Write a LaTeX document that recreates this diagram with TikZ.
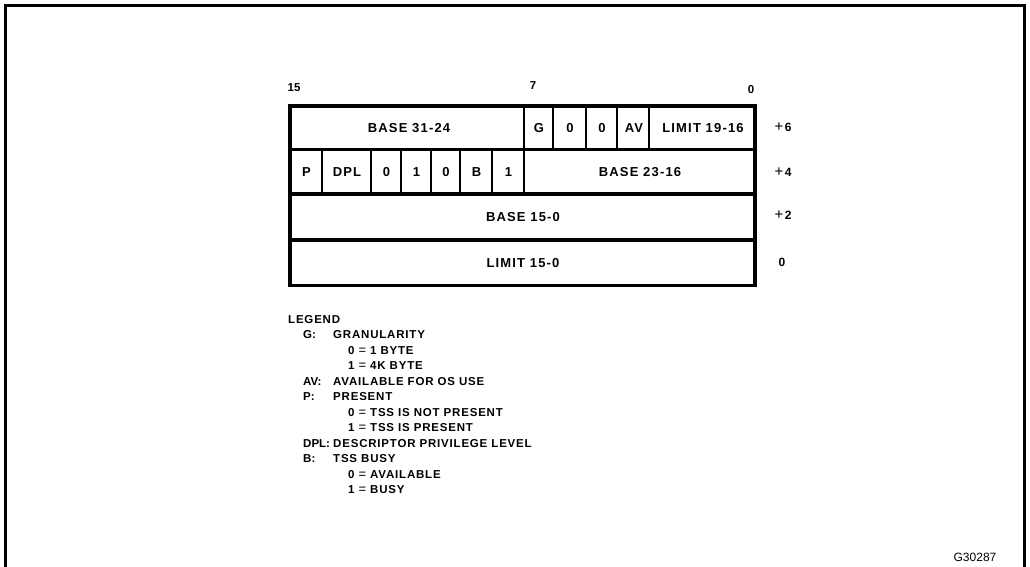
\documentclass[tikz,border=0pt]{standalone}
\usepackage{fontspec}
\setmainfont{Liberation Sans}
\newfontfamily\boxfont[LetterSpace=9]{Liberation Sans Bold}
\newfontfamily\legfont[LetterSpace=7]{Liberation Sans Bold}
\newfontfamily\numfont{Liberation Sans Bold}
\newfontfamily\regfont{Liberation Sans}
\newcommand{\pluslab}[1]{{\regfont\fontsize{15}{15}\selectfont +}\kern1.5pt{\numfont\fontsize{12}{14}\selectfont #1}}
\newcommand{\eqsign}{{\regfont\fontsize{13}{14}\selectfont =}}
\begin{document}
\begin{tikzpicture}[x=1pt,y=-1pt,
  thickbox/.style={line width=3.8pt},
  cellline/.style={line width=1.6pt},
  celltext/.style={font=\boxfont\fontsize{13}{15}\selectfont, inner sep=0pt},
  bitnum/.style={font=\numfont\fontsize{11.5}{13}\selectfont, inner sep=0pt},
  offs/.style={inner sep=0pt},
  legtext/.style={font=\legfont\fontsize{11.5}{14}\selectfont, inner sep=0pt, anchor=west},
  leglab/.style={font=\numfont\fontsize{11.5}{14}\selectfont, inner sep=0pt, anchor=west}]
\useasboundingbox (0,0) rectangle (1030,566);
% outer frame (bottom open)
\draw[line width=3pt] (5,570) -- (5,5) -- (1024,5) -- (1024,570);
% bit numbers
\node[bitnum] (b15) at (294,88) {15};
\node[bitnum] (b7) at (533,86) {7};
\node[bitnum] (b0) at (751,90) {0};
% cell dividers
\draw[cellline] (524,106) -- (524,149.5);
\draw[cellline] (553,106) -- (553,149.5);
\draw[cellline] (586,106) -- (586,149.5);
\draw[cellline] (617,106) -- (617,149.5);
\draw[cellline] (649,106) -- (649,149.5);
\draw[cellline] (322,149.5) -- (322,194);
\draw[cellline] (371,149.5) -- (371,194);
\draw[cellline] (401,149.5) -- (401,194);
\draw[cellline] (431,149.5) -- (431,194);
\draw[cellline] (460,149.5) -- (460,194);
\draw[cellline] (492,149.5) -- (492,194);
\draw[cellline] (524,149.5) -- (524,194);
% rows
\draw[thickbox] (290,106) rectangle (755,285.5);
\draw[thickbox] (290,149.5) -- (755,149.5);
\draw[thickbox] (290,194) -- (755,194);
\draw[thickbox] (290,240) -- (755,240);
% row 1 texts
\node[celltext] (base3124) at (409,128) {BASE 31-24};
\node[celltext] (g) at (539,128) {G};
\node[celltext] (z1) at (570,128) {0};
\node[celltext] (z2) at (602,128) {0};
\node[celltext] (av) at (634,128) {AV};
\node[celltext] (lim1916) at (703,128) {LIMIT 19-16};
% row 2 texts
\node[celltext] (p) at (306.5,172) {P};
\node[celltext] (dpl) at (347,172) {DPL};
\node[celltext] (c0a) at (386.5,172) {0};
\node[celltext] (c1a) at (416.5,172) {1};
\node[celltext] (c0b) at (446,172) {0};
\node[celltext] (bb) at (476.5,172) {B};
\node[celltext] (c1b) at (508.5,172) {1};
\node[celltext] (base2316) at (640,172) {BASE 23-16};
% rows 3, 4
\node[celltext] (base150) at (523,217) {BASE 15-0};
\node[celltext] (lim150) at (523,263) {LIMIT 15-0};
% offsets
\node[offs] (o6) at (783,127) {\pluslab{6}};
\node[offs] (o4) at (783,172) {\pluslab{4}};
\node[offs] (o2) at (783,215) {\pluslab{2}};
\node[offs, font=\numfont\fontsize{12}{14}\selectfont] (o0) at (782,262) {0};
% legend
\node[legtext] (l0) at (288,319.5) {LEGEND};
\node[leglab] (l1) at (303,335) {G:};
\node[legtext] (l1b) at (333,335) {GRANULARITY};
\node[legtext] (l2) at (348,350.5) {0 \eqsign{} 1 BYTE};
\node[legtext] (l3) at (348,366) {1 \eqsign{} 4K BYTE};
\node[leglab] (l4) at (303,381.5) {AV:};
\node[legtext] (l4b) at (333,381.5) {AVAILABLE FOR OS USE};
\node[leglab] (l5) at (303,397) {P:};
\node[legtext] (l5b) at (333,397) {PRESENT};
\node[legtext] (l6) at (348,412.5) {0 \eqsign{} TSS IS NOT PRESENT};
\node[legtext] (l7) at (348,428) {1 \eqsign{} TSS IS PRESENT};
\node[leglab] (l8) at (303,443.5) {DPL:};
\node[legtext] (l8b) at (333,443.5) {DESCRIPTOR PRIVILEGE LEVEL};
\node[leglab] (l9) at (303,459) {B:};
\node[legtext] (l9b) at (333,459) {TSS BUSY};
\node[legtext] (l10) at (348,474.5) {0 \eqsign{} AVAILABLE};
\node[legtext] (l11) at (348,490) {1 \eqsign{} BUSY};
% figure id
\node[font=\regfont\fontsize{12}{14}\selectfont, inner sep=0pt] (fig) at (975,557) {G30287};
\end{tikzpicture}
\end{document}
